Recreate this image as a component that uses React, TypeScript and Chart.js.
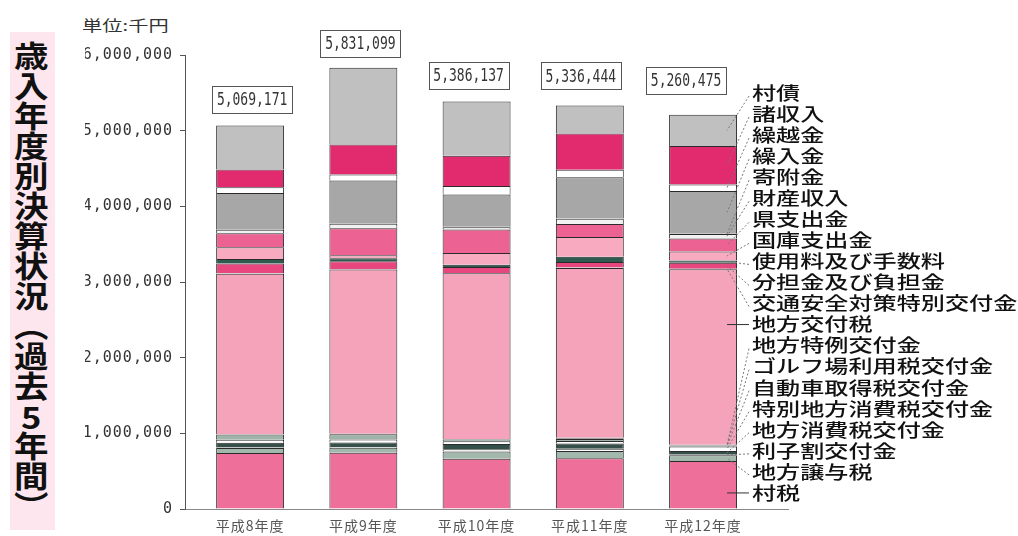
import React, { useEffect, useRef } from 'react';
import Chart from 'chart.js/auto';

// ---- data (千円) ----
const YEARS = ['平成8年度', '平成9年度', '平成10年度', '平成11年度', '平成12年度'];
const TOTAL_LABELS = ['5,069,171', '5,831,099', '5,386,137', '5,336,444', '5,260,475'];
const Y_TICKS = [0, 1000000, 2000000, 3000000, 4000000, 5000000, 6000000];

const SONZEI = [740000, 745000, 665000, 670000, 635000];
const JOYOZEI = [66000, 66000, 95000, 95000, 75000];
const RISHIWARI = [8000, 8000, 30000, 30000, 10000];
const CHIHO_SHOHIZEI = [60000, 60000, 70000, 70000, 45000];
const TOKUBETSU_SHOHIZEI = [40000, 40000, 35000, 35000, 60000];
const JIDOSHA = [70000, 70000, 25000, 25000, 10000];
const GOLF = [5000, 5000, 5000, 5000, 5000];
const TOKUREI = [0, 0, 0, 10000, 10000];
const KOFUZEI = [2120000, 2170000, 2190000, 2246000, 2320000];
const KOTSU = [5000, 5000, 4000, 4000, 4000];
const BUNTAN = [130000, 105000, 80000, 75000, 80000];
const SHIYORYO = [60000, 40000, 30000, 70000, 30000];
const KOKKO = [155000, 40000, 155000, 260000, 120000];
const KEN = [185000, 355000, 311000, 170000, 170000];
const ZAISAN = [45000, 60000, 30000, 70000, 60000];
const KIFU = [3000, 6000, 5000, 4000, 5000];
const KURIIRE = [485000, 565000, 425000, 545000, 565000];
const KURIKOSHI = [75000, 80000, 115000, 100000, 85000];
const SHOSHUNYU = [235000, 396000, 400000, 480000, 510000];
const SONSAI = [580000, 1015000, 715000, 370000, 410000];

// bottom -> top
const SERIES_NAMES = [
  '村税', '地方譲与税', '利子割交付金', '地方消費税交付金', '特別地方消費税交付金',
  '自動車取得税交付金', 'ゴルフ場利用税交付金', '地方特例交付金', '地方交付税',
  '交通安全対策特別交付金', '分担金及び負担金', '使用料及び手数料', '国庫支出金',
  '県支出金', '財産収入', '寄附金', '繰入金', '繰越金', '諸収入', '村債',
];
const SERIES_VALUES = [
  SONZEI, JOYOZEI, RISHIWARI, CHIHO_SHOHIZEI, TOKUBETSU_SHOHIZEI, JIDOSHA, GOLF, TOKUREI,
  KOFUZEI, KOTSU, BUNTAN, SHIYORYO, KOKKO, KEN, ZAISAN, KIFU, KURIIRE, KURIKOSHI,
  SHOSHUNYU, SONSAI,
];

// ---- styles ----
const SERIES_COLORS = [
  '#ef6f9b', '#a3b8ad', '#ffffff', '#35504a', '#ffffff', '#9fb3a9', '#dddddd', '#444444',
  '#f5a3bb', '#ffffff', '#e8467f', '#2f5a4f', '#f7aac0', '#ec6292', '#f2f2f2', '#666666',
  '#a7a7a7', '#ffffff', '#e22a6f', '#c0c0c0',
];
const LABEL_DX = [2, -3, -8, -9, -17];
const LABEL_GAP = [13, 11, 13, 16, 21];

const overlayPlugin = {
  id: 'overlay',
  beforeDraw(chart: any) {
    chart.ctx.letterSpacing = '1px';
  },
  afterDraw(chart: any) {
    const ctx = chart.ctx;
    ctx.save();
    ctx.letterSpacing = '0px';
    const n = SERIES_NAMES.length;
    // total boxes
    const topMeta = chart.getDatasetMeta(n - 1);
    for (let i = 0; i < YEARS.length; i++) {
      const el = topMeta.data[i];
      const cx = el.x + LABEL_DX[i];
      const yb = el.y - LABEL_GAP[i];
      const w = 80, h = 27;
      ctx.fillStyle = '#fff';
      ctx.fillRect(cx - w / 2, yb - h, w, h);
      ctx.strokeStyle = '#555';
      ctx.lineWidth = 1;
      ctx.strokeRect(Math.round(cx - w / 2) + 0.5, Math.round(yb - h) + 0.5, w, h);
      ctx.save();
      ctx.translate(cx, yb - h / 2 + 1);
      ctx.scale(1, 1.4);
      ctx.fillStyle = '#333';
      ctx.font = '13px "DejaVu Sans Mono"';
      ctx.textAlign = 'center';
      ctx.textBaseline = 'middle';
      ctx.fillText(TOTAL_LABELS[i], 0, 0);
      ctx.restore();
    }
    // legend with leader lines to the last bar
    const last = YEARS.length - 1;
    for (let k = 0; k < n; k++) {
      const si = n - 1 - k;
      const ty = 93 + k * 21.05;
      const seg = chart.getDatasetMeta(si).data[last];
      const sTop = Math.min(seg.y, seg.base);
      const sBot = Math.max(seg.y, seg.base);
      const ex = seg.x + seg.width / 2 - 10;
      let ey: number;
      let straight = false;
      if (ty > sTop + 2 && ty < sBot - 2) {
        ey = ty;
        straight = true;
      } else {
        ey = (sTop + sBot) / 2;
      }
      ctx.beginPath();
      ctx.strokeStyle = straight ? '#333' : '#777';
      ctx.lineWidth = 1;
      ctx.setLineDash(straight ? [] : [2, 2]);
      ctx.moveTo(749, ty + (straight ? 0 : 3));
      ctx.lineTo(ex, ey);
      ctx.stroke();
      ctx.setLineDash([]);
      ctx.save();
      ctx.translate(752, ty);
      ctx.scale(1.34, 1);
      ctx.font = '500 18px "Noto Sans CJK JP"';
      ctx.textAlign = 'left';
      ctx.textBaseline = 'middle';
      ctx.fillStyle = '#111';
      ctx.fillText(SERIES_NAMES[si], 0, 0);
      ctx.restore();
    }
    ctx.restore();
  },
};

export default function App() {
  const ref = useRef<HTMLCanvasElement>(null);

  useEffect(() => {
    document.body.style.margin = '0';
    const canvas = ref.current;
    if (!canvas) return;
    const chart = new Chart(canvas, {
      type: 'bar',
      data: {
        datasets: SERIES_NAMES.map((name, s) => ({
          label: name,
          data: SERIES_VALUES[s].map((v, i) => ({ x: i, y: v })),
          backgroundColor: SERIES_COLORS[s],
          borderColor: '#2a2a2a',
          borderWidth: 1,
          barPercentage: 0.6,
          categoryPercentage: 1,
        })),
      },
      options: {
        responsive: false,
        animation: false,
        layout: { padding: { left: 85, right: 230, top: 55, bottom: 0 } },
        plugins: { legend: { display: false }, tooltip: { enabled: false } },
        scales: {
          x: {
            type: 'linear',
            stacked: true,
            offset: false,
            min: -0.575,
            max: 4.75,
            afterBuildTicks: (s: any) => {
              s.ticks = YEARS.map((_, i) => ({ value: i }));
            },
            afterFit: (s: any) => {
              s.height = 27;
            },
            ticks: {
              callback: (v: any) => YEARS[v] ?? '',
              font: { family: '"Noto Sans CJK JP"', size: 14 },
              color: '#555',
              padding: 8,
              maxRotation: 0,
              autoSkip: false,
            },
            grid: { display: false, drawTicks: false, offset: false },
            border: { display: true, color: '#888' },
          },
          y: {
            stacked: true,
            min: 0,
            max: 6000000,
            afterBuildTicks: (s: any) => {
              s.ticks = Y_TICKS.map((v) => ({ value: v }));
            },
            afterFit: (s: any) => {
              s.width = 100;
            },
            ticks: {
              callback: (v: any) => Number(v).toLocaleString('en-US'),
              font: { family: '"DejaVu Sans Mono"', size: 15 },
              color: '#333',
              padding: 7,
            },
            grid: { drawOnChartArea: false, drawTicks: true, tickLength: 5, color: '#555' },
            border: { display: true, color: '#555' },
          },
        },
      } as any,
      plugins: [overlayPlugin],
    });
    return () => chart.destroy();
  }, []);

  return (
    <div style={{ position: 'relative', width: 1018, height: 536, overflow: 'hidden', background: '#fff' }}>
      <div style={{ position: 'absolute', left: 10, top: 32, width: 45, height: 498, background: '#fde6ee' }} />
      <div
        style={{
          position: 'absolute',
          left: 14,
          top: 41,
          writingMode: 'vertical-rl',
          fontFamily: '"Noto Sans CJK JP"',
          fontWeight: 700,
          fontSize: 30,
          lineHeight: 1,
          color: '#111',
          transform: 'scaleX(1.15)',
          transformOrigin: 'left top',
        }}
      >
        歳入年度別決算状況（過去<span style={{ textCombineUpright: 'all' } as any}>5</span>年間）
      </div>
      <div
        style={{
          position: 'absolute',
          left: 82,
          top: 15,
          fontFamily: '"Noto Sans CJK JP"',
          fontSize: 15,
          color: '#333',
          lineHeight: '20px',
          whiteSpace: 'nowrap',
          transform: 'scaleX(1.35)',
          transformOrigin: 'left top',
        }}
      >
        単位:千円
      </div>
      <canvas ref={ref} width={1018} height={536} style={{ position: 'absolute', left: 0, top: 0 }} />
    </div>
  );
}
